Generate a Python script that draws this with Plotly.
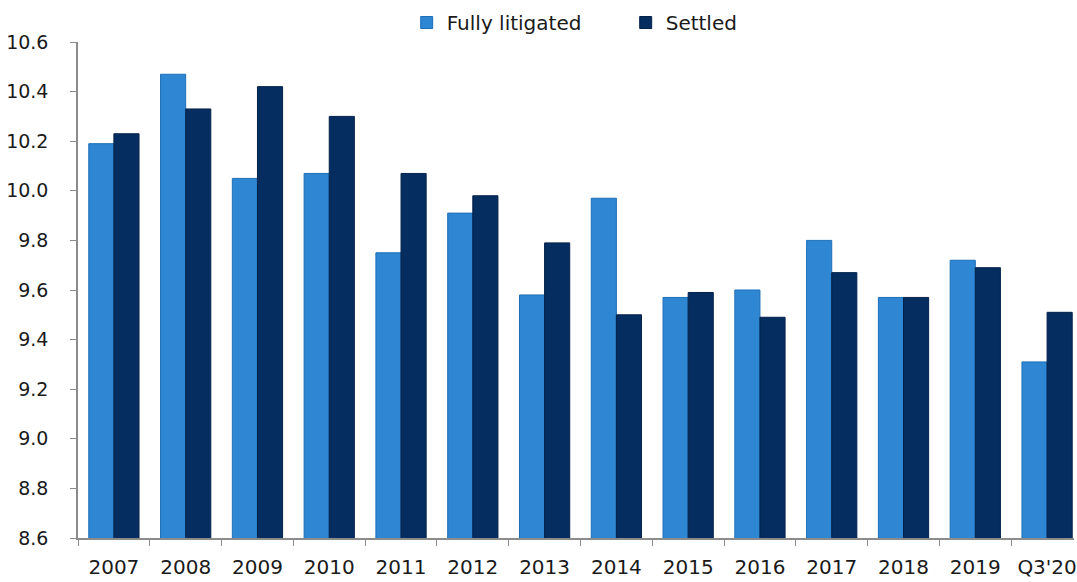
import plotly.graph_objects as go

periods = ["2007", "2008", "2009", "2010", "2011", "2012", "2013",
           "2014", "2015", "2016", "2017", "2018", "2019", "Q3'20"]
fully_litigated = [10.19, 10.47, 10.05, 10.07, 9.75, 9.91, 9.58,
                   9.97, 9.57, 9.60, 9.80, 9.57, 9.72, 9.31]
settled = [10.23, 10.33, 10.42, 10.30, 10.07, 9.98, 9.79,
           9.50, 9.59, 9.49, 9.67, 9.57, 9.69, 9.51]

light_blue = "#2f86d2"
dark_blue = "#062d5f"
font_family = "DejaVu Sans, sans-serif"

fig = go.Figure()
fig.add_trace(go.Bar(
    x=periods, y=fully_litigated, name="Fully litigated",
    marker=dict(color=light_blue, line=dict(color="#1d6fb8", width=1)),
))
fig.add_trace(go.Bar(
    x=periods, y=settled, name="Settled",
    marker=dict(color=dark_blue, line=dict(color="#03224a", width=1)),
))

fig.update_layout(
    width=1077, height=582,
    margin=dict(l=78, r=0, t=42, b=44),
    paper_bgcolor="white", plot_bgcolor="white",
    barmode="group", bargap=0.30, bargroupgap=0,
    font=dict(family=font_family, size=20, color="#1a1a1a"),
    legend=dict(
        orientation="h", x=0.33, xanchor="left", y=1.0, yanchor="bottom",
        font=dict(size=20), itemwidth=30, traceorder="normal",
        entrywidth=174, entrywidthmode="pixels",
    ),
    showlegend=True,
)
fig.update_xaxes(
    type="category", range=[-0.5, 13.375],
    showline=True, linecolor="#8c8c8c", linewidth=1.5,
    ticks="outside", tickson="boundaries", ticklen=6, tickcolor="#8c8c8c",
    showgrid=False, tickfont=dict(size=20), ticklabelstandoff=10,
)
fig.update_yaxes(
    range=[8.6, 10.6], tickvals=[8.6, 8.8, 9.0, 9.2, 9.4, 9.6, 9.8, 10.0, 10.2, 10.4, 10.6],
    ticktext=["8.6", "8.8", "9.0", "9.2", "9.4", "9.6", "9.8", "10.0", "10.2", "10.4", "10.6"],
    showline=True, linecolor="#8c8c8c", linewidth=1.5,
    ticks="outside", ticklen=6, tickcolor="#8c8c8c",
    showgrid=False, zeroline=False, tickfont=dict(size=19), ticklabelstandoff=18,
)

fig.write_html("out.html")
